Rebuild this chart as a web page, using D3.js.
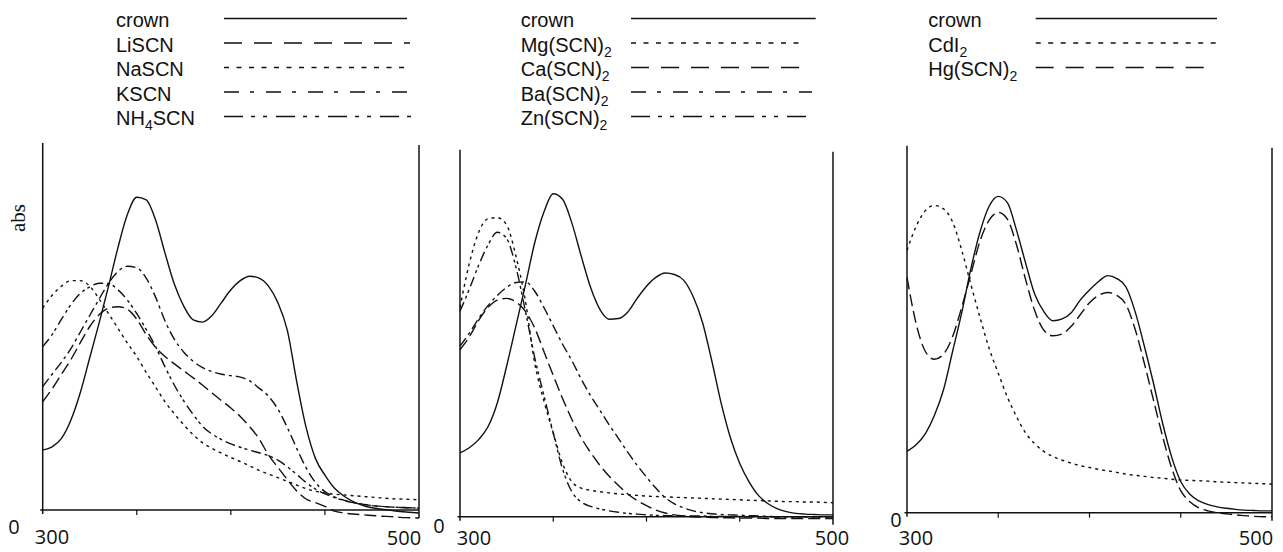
<!DOCTYPE html>
<html><head><meta charset="utf-8">
<script src="https://cdn.jsdelivr.net/npm/d3@7"></script>
<style>
html,body{margin:0;padding:0;background:#fff;}
svg{display:block;}
</style></head><body>
<svg id="chart" width="1283" height="552"></svg>
<script>
// ---------------- DATA ----------------
const wavelengths = [300,305,310,315,320,325,330,335,340,345,350,355,360,365,370,375,380,385,390,395,400,405,410,415,420,425,430,435,440,445,450,455,460,465,470,475,480,485,490,495,500];
const xTickValues = [350, 400, 450];
const xTickLabels = ["300", "500"];
const zeroLabel = "0";
const yAxisTitle = "abs";

// Panel 1 : alkali thiocyanates
const crownA = [0.163,0.172,0.195,0.245,0.32,0.415,0.51,0.61,0.715,0.805,0.852,0.845,0.79,0.70,0.615,0.555,0.518,0.512,0.53,0.565,0.60,0.625,0.637,0.632,0.610,0.565,0.49,0.35,0.225,0.14,0.095,0.06,0.038,0.023,0.013,0.006,0.002,-0.001,-0.004,-0.006,-0.008];
const LiSCN  = [0.295,0.33,0.37,0.41,0.456,0.5,0.532,0.55,0.554,0.547,0.52,0.478,0.443,0.418,0.398,0.379,0.36,0.34,0.319,0.298,0.278,0.255,0.227,0.194,0.15,0.116,0.083,0.052,0.03,0.02,0.01,-0.003,-0.008,-0.011,-0.013,-0.015,-0.017,-0.018,-0.02,-0.021,-0.022];
const NaSCN  = [0.55,0.585,0.61,0.625,0.625,0.61,0.575,0.535,0.495,0.455,0.418,0.375,0.335,0.295,0.262,0.232,0.205,0.183,0.168,0.155,0.143,0.132,0.12,0.108,0.098,0.088,0.078,0.068,0.058,0.051,0.046,0.043,0.041,0.039,0.037,0.035,0.033,0.031,0.03,0.029,0.028];
const KSCN   = [0.336,0.37,0.403,0.44,0.485,0.53,0.575,0.618,0.65,0.664,0.66,0.632,0.58,0.515,0.465,0.43,0.405,0.388,0.377,0.37,0.366,0.362,0.352,0.332,0.31,0.275,0.225,0.168,0.115,0.075,0.05,0.036,0.027,0.02,0.016,0.012,0.01,0.008,0.007,0.006,0.005];
const NH4SCN = [0.445,0.478,0.52,0.56,0.59,0.608,0.618,0.617,0.60,0.572,0.535,0.492,0.445,0.39,0.34,0.297,0.26,0.228,0.207,0.192,0.18,0.171,0.163,0.156,0.148,0.136,0.118,0.097,0.075,0.057,0.044,0.034,0.026,0.02,0.016,0.012,0.01,0.008,0.007,0.006,0.005];

// Panel 2 : alkaline-earth / zinc thiocyanates
const crownB = [0.174,0.188,0.21,0.245,0.31,0.41,0.52,0.63,0.745,0.83,0.88,0.865,0.8,0.71,0.625,0.565,0.538,0.54,0.558,0.595,0.628,0.652,0.664,0.66,0.644,0.6,0.53,0.425,0.31,0.215,0.145,0.095,0.058,0.036,0.022,0.014,0.009,0.007,0.006,0.005,0.005];
const MgSCN2 = [0.57,0.69,0.775,0.812,0.815,0.795,0.71,0.59,0.42,0.315,0.228,0.145,0.095,0.078,0.072,0.068,0.065,0.062,0.06,0.058,0.056,0.055,0.054,0.053,0.052,0.051,0.05,0.049,0.048,0.047,0.046,0.045,0.044,0.043,0.042,0.041,0.041,0.04,0.04,0.039,0.038];
const CaSCN2 = [0.455,0.49,0.535,0.57,0.59,0.595,0.585,0.56,0.515,0.45,0.385,0.322,0.265,0.215,0.175,0.14,0.11,0.085,0.062,0.044,0.03,0.018,0.01,0.005,0.002,0.0,-0.001,-0.002,-0.003,-0.003,-0.004,-0.004,-0.004,-0.005,-0.005,-0.005,-0.005,-0.005,-0.005,-0.005,-0.005];
const BaSCN2 = [0.465,0.5,0.54,0.575,0.603,0.625,0.638,0.64,0.615,0.57,0.52,0.47,0.425,0.375,0.33,0.29,0.25,0.213,0.175,0.14,0.108,0.078,0.052,0.035,0.024,0.016,0.011,0.008,0.006,0.005,0.004,0.003,0.002,0.001,0.0,0.0,0.0,0.0,0.0,0.0,0.0];
const ZnSCN2 = [0.56,0.62,0.685,0.74,0.775,0.758,0.68,0.562,0.435,0.33,0.228,0.13,0.068,0.04,0.028,0.021,0.016,0.012,0.009,0.007,0.005,0.004,0.003,0.003,0.002,0.002,0.002,0.001,0.001,0.001,0.001,0.0,0.0,0.0,0.0,0.0,0.0,0.0,0.0,0.0,0.0];

// Panel 3 : cadmium / mercury salts
const crownC = [0.167,0.185,0.215,0.265,0.335,0.44,0.545,0.665,0.765,0.835,0.862,0.845,0.77,0.68,0.595,0.548,0.523,0.528,0.545,0.58,0.607,0.63,0.646,0.638,0.615,0.548,0.455,0.354,0.245,0.152,0.085,0.05,0.032,0.022,0.016,0.012,0.009,0.007,0.006,0.005,0.005];
const CdI2   = [0.715,0.78,0.823,0.837,0.828,0.792,0.715,0.622,0.532,0.448,0.38,0.315,0.262,0.217,0.188,0.167,0.153,0.143,0.135,0.128,0.123,0.118,0.114,0.11,0.105,0.102,0.099,0.096,0.094,0.091,0.089,0.088,0.087,0.086,0.084,0.083,0.082,0.081,0.08,0.079,0.078];
const HgSCN2 = [0.641,0.515,0.44,0.418,0.432,0.48,0.56,0.65,0.74,0.797,0.818,0.80,0.73,0.635,0.55,0.497,0.482,0.487,0.508,0.54,0.572,0.592,0.600,0.592,0.567,0.500,0.408,0.308,0.209,0.122,0.06,0.03,0.013,0.005,0.0,-0.003,-0.006,-0.008,-0.01,-0.011,-0.011];

// legend labels (second part = subscript)
const legend1 = [["crown"], ["LiSCN"], ["NaSCN"], ["KSCN"], ["NH", "4", "SCN"]];
const legend2 = [["crown"], ["Mg(SCN)", "2"], ["Ca(SCN)", "2"], ["Ba(SCN)", "2"], ["Zn(SCN)", "2"]];
const legend3 = [["crown"], ["CdI", "2"], ["Hg(SCN)", "2"]];

// ---------------- STYLES ----------------
const plotDash = {solid: null, long: "12,5", short: "3,4", dashdot: "10,4,3,4", dashdotdot: "10,4,3,3,3,4"};
const legDash  = {solid: null, long: "18,12", short: "5,7.5", dashdot: "15,11,4,12", dashdotdot: "19,8,4,8,4,9"};

const panels = [
  { series: [crownA, LiSCN, NaSCN, KSCN, NH4SCN], styles: ["solid","long","short","dashdot","dashdotdot"],
    legend: legend1, left: 42.7, right: 419, base: 510,
    legTextX: 116, legLineX1: 224, legLineX2: [407,410,408,415,415],
    zero: [14, 534], lab300: [52, 544], lab500: [404, 545] },
  { series: [crownB, MgSCN2, CaSCN2, BaSCN2, ZnSCN2], styles: ["solid","short","long","dashdot","dashdotdot"],
    legend: legend2, left: 460, right: 833, base: 516.7,
    legTextX: 520.7, legLineX1: 631, legLineX2: [815.7,805,806.7,812,811.7],
    zero: [439, 533], lab300: [474, 545], lab500: [832, 545] },
  { series: [crownC, CdI2, HgSCN2], styles: ["solid","short","long"],
    legend: legend3, left: 907, right: 1272, base: 512.7,
    legTextX: 928.3, legLineX1: 1035.7, legLineX2: [1217,1217,1206.7],
    zero: [896, 527], lab300: [916, 545], lab500: [1256, 545] }
];

const svg = d3.select("#chart");
const ink = "#111";

panels.forEach((p, pi) => {
  const x = d3.scaleLinear().domain([300, 500]).range([p.left, p.right]);
  const y = d3.scaleLinear().domain([0, 1]).range([p.base, p.base - 367]);
  const g = svg.append("g");

  // axes frame
  g.append("line").attr("x1", x(300)).attr("x2", x(300)).attr("y1", y(1)).attr("y2", p.base + 4)
    .attr("stroke", ink).attr("stroke-width", 1.5);
  g.append("line").attr("x1", x(500)).attr("x2", x(500)).attr("y1", y(1) + 2).attr("y2", p.base + 8)
    .attr("stroke", ink).attr("stroke-width", 1.5);
  g.append("line").attr("x1", x(300) - 2.5).attr("x2", x(500)).attr("y1", y(0)).attr("y2", y(0))
    .attr("stroke", ink).attr("stroke-width", 1.5);
  g.selectAll(".tick").data(xTickValues).enter().append("line")
    .attr("x1", d => x(d)).attr("x2", d => x(d)).attr("y1", y(0)).attr("y2", y(0) + 5)
    .attr("stroke", ink).attr("stroke-width", 1.2);

  // axis labels
  g.append("text").attr("x", p.zero[0]).attr("y", p.zero[1]).attr("text-anchor", "middle")
    .attr("font-family", "Open Sans").attr("font-size", 20).attr("fill", ink).text(zeroLabel);
  g.append("text").attr("x", p.lab300[0]).attr("y", p.lab300[1]).attr("text-anchor", "middle")
    .attr("font-family", "Open Sans").attr("font-size", 20).attr("fill", ink).text(xTickLabels[0]);
  g.append("text").attr("x", p.lab500[0]).attr("y", p.lab500[1]).attr("text-anchor", "middle")
    .attr("font-family", "Open Sans").attr("font-size", 20).attr("fill", ink).text(xTickLabels[1]);

  // curves
  const line = d3.line().x((d, i) => x(wavelengths[i])).y(d => y(d)).curve(d3.curveMonotoneX);
  p.series.forEach((vals, si) => {
    g.append("path").attr("d", line(vals)).attr("fill", "none").attr("stroke", ink)
      .attr("stroke-width", 1.4).attr("stroke-dasharray", plotDash[p.styles[si]]);
  });

  // legend
  p.legend.forEach((lab, li) => {
    const by = 27 + li * 24.5;
    const t = g.append("text").attr("x", p.legTextX).attr("y", by)
      .attr("font-family", "Liberation Sans, Arial, sans-serif").attr("font-size", 20).attr("fill", ink);
    t.append("tspan").text(lab[0]);
    if (lab.length > 1) {
      t.append("tspan").attr("dy", 5).attr("font-size", 14).text(lab[1]);
      if (lab.length > 2) t.append("tspan").attr("dy", -5).text(lab[2]);
    }
    g.append("line").attr("x1", p.legLineX1).attr("x2", p.legLineX2[li])
      .attr("y1", by - 8.5).attr("y2", by - 8.5).attr("stroke", ink).attr("stroke-width", 1.3)
      .attr("stroke-dasharray", legDash[p.styles[li]]);
  });
});

// y-axis title
svg.append("text").attr("transform", "translate(25,218) rotate(-90)").attr("text-anchor", "middle")
  .attr("font-family", "Liberation Serif, Times New Roman, serif").attr("font-size", 21).attr("fill", ink)
  .text(yAxisTitle);
</script>
</body></html>
